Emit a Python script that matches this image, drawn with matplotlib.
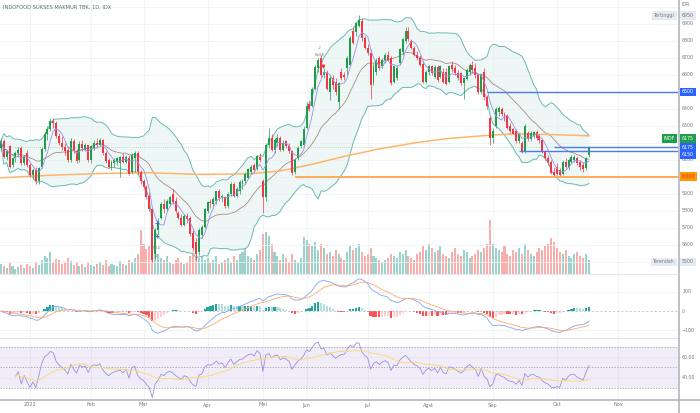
import matplotlib.pyplot as plt
import matplotlib.transforms as mtransforms
from matplotlib.lines import Line2D
import numpy as np
import pandas as pd

plt.rcParams['font.family'] = ['DejaVu Sans']

title = 'INDOFOOD SUKSES MAKMUR TBK, 1D, IDX'

# daily candles (Dec 2021 .. 18 Oct 2022)
opens = [
    6170, 6210, 6120, 6180, 6070, 6110, 6140, 6170, 6080, 6140,
    6070, 6010, 6040, 5975, 6060, 6165, 6250, 6280, 6330, 6320,
    6240, 6200, 6175, 6160, 6100, 6210, 6150, 6100, 6195, 6160,
    6185, 6100, 6170, 6200, 6190, 6215, 6140, 6100, 6060, 6080,
    6090, 6080, 6115, 6090, 6110, 6030, 6110, 6140, 6030, 5975,
    5940, 5890, 5810, 5545, 5690, 5760, 5840, 5810, 5840, 5900,
    5860, 5790, 5760, 5720, 5770, 5760, 5670, 5620, 5560, 5660,
    5705, 5800, 5850, 5840, 5860, 5915, 5880, 5880, 5830, 5900,
    5960, 5890, 5920, 5960, 5975, 5995, 6030, 6070, 6045, 6120,
    5975, 5880, 6190, 6230, 6160, 6200, 6230, 6160, 6210, 6180,
    6150, 6030, 6110, 6180, 6190, 6290, 6430, 6420, 6520, 6640,
    6700, 6600, 6610, 6500, 6580, 6560, 6440, 6620, 6600, 6640,
    6660, 6860, 6850, 6890, 6920, 6815, 6760, 6730, 6550, 6620,
    6700, 6650, 6690, 6720, 6700, 6560, 6580, 6670, 6735, 6800,
    6860, 6800, 6760, 6720, 6700, 6665, 6560, 6620, 6650, 6590,
    6645, 6590, 6620, 6620, 6560, 6660, 6640, 6610, 6610, 6550,
    6575, 6620, 6660, 6640, 6600, 6500, 6620, 6470, 6345, 6230,
    6300, 6380, 6400, 6370, 6360, 6300, 6280, 6270, 6210, 6200,
    6150, 6260, 6225, 6240, 6265, 6240, 6215, 6150, 6110, 6085,
    6030, 6060, 6040, 6020, 6090, 6060, 6090, 6100, 6110, 6085,
    6070, 6050, 6130,
]
highs = [
    6230, 6225, 6160, 6190, 6120, 6150, 6175, 6180, 6130, 6160,
    6080, 6050, 6060, 6060, 6175, 6265, 6300, 6345, 6345, 6330,
    6260, 6240, 6200, 6180, 6230, 6225, 6165, 6210, 6220, 6200,
    6190, 6190, 6220, 6230, 6230, 6225, 6150, 6110, 6100, 6110,
    6120, 6125, 6140, 6130, 6130, 6140, 6150, 6150, 6040, 5985,
    5950, 5910, 5820, 5700, 5760, 5850, 5870, 5870, 5890, 5930,
    5880, 5800, 5780, 5780, 5790, 5770, 5690, 5640, 5700, 5720,
    5820, 5860, 5870, 5880, 5920, 5930, 5900, 5890, 5910, 5970,
    5970, 5940, 5980, 5990, 6030, 6050, 6070, 6080, 6130, 6140,
    5990, 6200, 6290, 6250, 6230, 6250, 6240, 6220, 6220, 6200,
    6160, 6110, 6180, 6220, 6300, 6440, 6450, 6530, 6660, 6700,
    6720, 6640, 6630, 6600, 6600, 6580, 6560, 6640, 6620, 6710,
    6830, 6880, 6910, 6950, 6935, 6830, 6780, 6750, 6670, 6700,
    6710, 6700, 6730, 6740, 6710, 6660, 6660, 6760, 6820, 6880,
    6880, 6810, 6770, 6740, 6720, 6680, 6630, 6660, 6660, 6660,
    6660, 6660, 6640, 6640, 6660, 6680, 6660, 6630, 6620, 6590,
    6640, 6670, 6680, 6670, 6610, 6610, 6640, 6480, 6360, 6290,
    6410, 6420, 6410, 6380, 6370, 6320, 6290, 6280, 6260, 6210,
    6310, 6270, 6270, 6270, 6275, 6250, 6225, 6160, 6130, 6100,
    6060, 6080, 6050, 6100, 6110, 6110, 6130, 6130, 6120, 6100,
    6090, 6120, 6180,
]
lows = [
    6150, 6110, 6100, 6050, 6060, 6090, 6120, 6070, 6070, 6060,
    6000, 5990, 5960, 5960, 6050, 6150, 6220, 6270, 6290, 6230,
    6190, 6160, 6130, 6090, 6090, 6140, 6080, 6090, 6150, 6150,
    6090, 6080, 6160, 6170, 6180, 6130, 6080, 6050, 6040, 6060,
    6070, 6000, 6080, 6080, 6010, 6020, 6030, 6020, 5960, 5930,
    5870, 5800, 5500, 5520, 5660, 5750, 5790, 5800, 5830, 5840,
    5790, 5750, 5710, 5710, 5730, 5650, 5570, 5510, 5540, 5640,
    5700, 5790, 5820, 5830, 5840, 5860, 5850, 5820, 5820, 5890,
    5880, 5880, 5900, 5930, 5960, 5990, 6020, 6030, 6040, 6090,
    5790, 5860, 6170, 6150, 6140, 6180, 6150, 6150, 6170, 6140,
    6010, 6020, 6100, 6170, 6180, 6280, 6390, 6410, 6510, 6620,
    6590, 6580, 6510, 6450, 6520, 6480, 6400, 6570, 6570, 6600,
    6650, 6780, 6830, 6880, 6800, 6750, 6720, 6460, 6540, 6600,
    6630, 6640, 6670, 6680, 6540, 6550, 6570, 6660, 6720, 6790,
    6800, 6750, 6710, 6690, 6650, 6550, 6550, 6600, 6600, 6580,
    6560, 6580, 6550, 6540, 6550, 6620, 6600, 6570, 6540, 6460,
    6570, 6600, 6620, 6580, 6490, 6490, 6450, 6400, 6190, 6200,
    6290, 6360, 6360, 6330, 6280, 6260, 6250, 6200, 6200, 6140,
    6140, 6210, 6210, 6230, 6220, 6200, 6140, 6100, 6070, 6015,
    6000, 6010, 6000, 6010, 6050, 6040, 6080, 6090, 6070, 6040,
    6030, 6040, 6120,
]
closes = [
    6210, 6120, 6150, 6060, 6110, 6140, 6160, 6080, 6120, 6070,
    6010, 6040, 5975, 6050, 6165, 6250, 6280, 6330, 6320, 6240,
    6200, 6175, 6150, 6100, 6210, 6150, 6095, 6195, 6170, 6185,
    6100, 6180, 6200, 6190, 6215, 6140, 6095, 6060, 6085, 6100,
    6110, 6115, 6090, 6120, 6020, 6130, 6140, 6030, 5975, 5940,
    5880, 5810, 5510, 5690, 5740, 5840, 5810, 5860, 5880, 5850,
    5800, 5760, 5720, 5770, 5750, 5665, 5580, 5545, 5690, 5705,
    5810, 5855, 5845, 5870, 5915, 5875, 5890, 5830, 5900, 5960,
    5890, 5930, 5970, 5975, 6015, 6045, 6060, 6040, 6125, 6100,
    5880, 6190, 6230, 6160, 6215, 6230, 6160, 6200, 6180, 6150,
    6025, 6100, 6170, 6210, 6285, 6420, 6400, 6520, 6645, 6690,
    6600, 6620, 6520, 6580, 6540, 6500, 6550, 6585, 6590, 6700,
    6815, 6790, 6905, 6925, 6815, 6760, 6730, 6540, 6655, 6690,
    6640, 6690, 6720, 6690, 6555, 6655, 6640, 6750, 6810, 6860,
    6810, 6760, 6720, 6700, 6660, 6560, 6620, 6650, 6610, 6645,
    6570, 6650, 6560, 6545, 6650, 6635, 6610, 6580, 6550, 6580,
    6630, 6660, 6630, 6600, 6500, 6600, 6470, 6420, 6230, 6270,
    6400, 6405, 6370, 6345, 6290, 6270, 6255, 6210, 6250, 6150,
    6300, 6225, 6260, 6265, 6230, 6215, 6150, 6110, 6085, 6025,
    6010, 6020, 6010, 6090, 6060, 6100, 6120, 6115, 6080, 6060,
    6045, 6110, 6175,
]
volumes = [
    10, 8, 6, 12, 8, 5, 7, 9, 6, 10,
    8, 6, 12, 9, 14, 18, 16, 22, 12, 15,
    14, 10, 12, 16, 13, 9, 12, 8, 10, 7,
    11, 9, 8, 10, 12, 9, 14, 8, 10, 9,
    8, 13, 10, 9, 14, 12, 16, 20, 44, 30,
    25, 28, 34, 26, 20, 16, 14, 18, 12, 10,
    14, 16, 12, 10, 12, 18, 24, 20, 16, 18,
    14, 16, 12, 14, 18, 10, 12, 14, 16, 12,
    18, 14, 20, 22, 26, 18, 16, 14, 20, 24,
    40, 42, 38, 30, 22, 18, 14, 20, 16, 12,
    20, 14, 12, 16, 37, 34, 30, 28, 32, 24,
    30, 26, 20, 22, 18, 24, 20, 16, 14, 22,
    28, 24, 26, 30, 22, 18, 20, 26, 18, 16,
    14, 12, 14, 16, 20, 18, 16, 22, 20, 24,
    18, 16, 14, 20, 22, 28, 24, 30, 26, 22,
    24, 28, 20, 18, 16, 22, 26, 20, 18, 24,
    22, 16, 18, 20, 24, 22, 26, 30, 54, 30,
    26, 24, 22, 28, 20, 18, 24, 22, 26, 20,
    30, 24, 20, 18, 22, 26, 24, 28, 30, 36,
    32, 26, 22, 20, 24, 18, 16, 20, 22, 18,
    16, 20, 14,
]

# 200-day MA read at a few points (needs history that is off the chart)
ma200_pos = [0, 17, 34, 50, 68, 85, 96, 107, 119, 130, 142, 153, 165, 176, 188, 202]
ma200_val = [5995, 6010, 6020, 6025, 6015, 6018, 6035, 6075, 6125, 6165, 6200, 6225, 6242, 6253, 6250, 6242]

month_pos = [10, 31, 49, 71, 90, 105, 126, 147, 169, 191, 212]
month_names = ['2022', 'Feb', 'Mar', 'Apr', 'Mei', 'Jun', 'Jul', 'Agst', 'Sep', 'Okt', 'Nov']

level_vals = [6500, 6175, 6150, 6000]
level_start = [167, 190, 178, 101]
level_cols = ['#4a7af0', '#4a7af0', '#4a7af0', '#ffab57']

price_ticks = list(range(5600, 7000, 100))

# ---- indicators ----
n = len(closes)
idx = np.arange(n)
o = np.array(opens, float)
h = np.array(highs, float)
l = np.array(lows, float)
c = np.array(closes, float)
up = c >= o

s = pd.Series(c)
basis = s.rolling(20, min_periods=1).mean()
dev = s.rolling(20, min_periods=1).std(ddof=0)
upper = basis + 2 * dev
lower = basis - 2 * dev
ma5 = s.rolling(5, min_periods=1).mean()

macd = s.ewm(span=12, adjust=False).mean() - s.ewm(span=26, adjust=False).mean()
signal = macd.ewm(span=9, adjust=False).mean()
hist = macd - signal

delta = s.diff()
gain = delta.clip(lower=0).ewm(alpha=1 / 14, adjust=True).mean()
loss = (-delta.clip(upper=0)).ewm(alpha=1 / 14, adjust=True).mean()
rsi = 100 - 100 / (1 + gain / loss)
rsi[:5] = np.nan  # warm-up values are meaningless
rsi_ma = rsi.rolling(14, min_periods=1).mean()

# ---- layout ----
W, H = 700, 413
PW = 678
fig = plt.figure(figsize=(7, 4.13), dpi=100)


def frame(top, bottom):
    return [0, 1 - bottom / H, PW / W, (bottom - top) / H]


ax = fig.add_axes(frame(0, 274))
axv = ax.twinx()
axm = fig.add_axes(frame(274, 338))
axr = fig.add_axes(frame(338, 399))
ax.set_zorder(axv.get_zorder() + 1)
ax.patch.set_visible(False)

XL = (-0.3, 232.6)
for a in (ax, axv, axm, axr):
    a.set_xlim(*XL)
    a.set_xticks([])
    a.set_yticks([])
    for sp in a.spines.values():
        sp.set_visible(False)

ax.set_ylim(5429, 7041)
axv.set_ylim(0, 274)
axm.set_ylim(-138.5, 190)
axr.set_ylim(19.35, 78.4)

grid_c = '#edf2f5'
for p in month_pos:
    for a in (axv, axm, axr):
        a.axvline(p, color=grid_c, lw=0.6, zorder=0)
for p in range(5500, 7100, 100):
    ax.axhline(p, color=grid_c, lw=0.6, zorder=0)

# volume
vcol = np.where(up, '#9ad3cc', '#f7aeac')
axv.bar(idx, volumes, width=0.7, color=vcol, lw=0)

# bands and averages
ax.fill_between(idx, lower, upper, color='#e4f2f0', alpha=0.6, lw=0, zorder=1)
ax.plot(idx, upper, color='#6ab9b2', lw=0.7, zorder=2)
ax.plot(idx, lower, color='#6ab9b2', lw=0.7, zorder=2)
ax.plot(idx, basis, color='#a88b86', lw=0.6, zorder=3)
ax.plot(ma200_pos, ma200_val, color='#ffb46b', lw=1.1, zorder=3)

# candles
col = np.where(up, '#1e9e4a', '#f23645')
ax.vlines(idx, l, h, colors=col, lw=0.5, zorder=4)
ax.bar(idx, np.maximum(np.abs(c - o), 5), bottom=np.minimum(o, c), width=0.68,
       color=col, lw=0, zorder=5)
ax.plot(idx, ma5, color='#9d8fe6', lw=0.6, zorder=6)

# horizontal levels
for v, st, cl in zip(level_vals, level_start, level_cols):
    ax.hlines(v, st, XL[1], colors=cl, lw=1.4 if v == 6000 else 1.0, zorder=7)
ax.axhline(closes[-1], color='#9fd6bd', lw=0.6, ls=(0, (1, 1.5)), zorder=1)

# signals
ax.plot([53.5, 53.5], [5730, 5650], ls='none', marker='+', ms=2.5, mew=0.6, color='#2962ff', zorder=8)
ax.text(53.5, 5580, 'BuLE', fontsize=2.8, color='#787b86', ha='center', va='center', zorder=8)
ax.text(53.5, 5535, '-2', fontsize=2.8, color='#787b86', ha='center', va='center', zorder=8)
ax.text(109.6, 6760, '-2', fontsize=2.8, color='#787b86', ha='center', va='center', zorder=8)
ax.text(109.6, 6718, 'BuSE', fontsize=2.8, color='#787b86', ha='center', va='center', zorder=8)
ax.plot([110.5], [6650], ls='none', marker='v', ms=1.8, color='#f23645', zorder=8)

# MACD
hcol = []
for k in range(n):
    prev = hist[k - 1] if k else 0
    if hist[k] >= 0:
        hcol.append('#26a69a' if hist[k] >= prev else '#b2dfdb')
    else:
        hcol.append('#ff5252' if hist[k] < prev else '#ffcdd2')
axm.axhline(100, color=grid_c, lw=0.6)
axm.axhline(-100, color=grid_c, lw=0.6)
axm.axhline(0, color='#b2b5be', lw=0.5, ls=(0, (3, 3)))
axm.bar(idx, hist, width=0.75, color=hcol, lw=0)
axm.plot(idx, macd, color='#7fa4f2', lw=0.6)
axm.plot(idx, signal, color='#ffa86e', lw=0.6)

# RSI
axr.axhspan(30, 70, color='#7e57c2', alpha=0.1, lw=0)
for lv in (60, 40):
    axr.axhline(lv, color='#e6e2f0', lw=0.5)
for lv in (70, 50, 30):
    axr.axhline(lv, color='#9598a1', lw=0.5, ls=(0, (2, 2)))
axr.plot(idx, rsi, color='#9b8ee0', lw=0.6)
axr.plot(idx, rsi_ma, color='#f7dc7c', lw=0.7)

# ---- text ----
fs = 3.4
gray = '#787b86'
LX = 682 / PW
tr = mtransforms.blended_transform_factory(ax.transAxes, ax.transData)
for p in price_ticks:
    ax.text(LX, p, str(p), transform=tr, fontsize=fs, color=gray, ha='left', va='center', zorder=10)
ax.text(LX, 1 - 5 / 274, 'IDR', transform=ax.transAxes, fontsize=fs, color=gray, ha='left', va='center')

boxes = [('6500', 6500, '#2962ff', 'white'),
         ('6175', 6224, '#1e9e4a', 'white'),
         ('6175', 6175, '#2962ff', 'white'),
         ('6150', 6130, '#2962ff', 'white'),
         ('6,000', 6003, '#ff9800', '#d32f2f'),
         ('6950', 6950, '#e6ebf1', gray),
         ('5500', 5500, '#e6ebf1', gray)]
for txt, y, fc, tc in boxes:
    ax.text(LX, y, txt, transform=tr, fontsize=fs, color=tc, ha='left', va='center', zorder=20,
            bbox=dict(boxstyle='square,pad=0.4', fc=fc, ec='none'))
for txt, y, fc, tc in [('Tertinggi', 6950, '#e6ebf1', gray), ('Terendah', 5500, '#e6ebf1', gray),
                       ('INDF', 6224, '#1e9e4a', 'white')]:
    ax.text(675 / PW, y, txt, transform=tr, fontsize=fs, color=tc, ha='right', va='center', zorder=20,
            bbox=dict(boxstyle='square,pad=0.4', fc=fc, ec='none'))

ax.text(3 / PW, 1 - 7 / 274, title, transform=ax.transAxes, fontsize=3.7, color='#5b6b6e',
        ha='left', va='center')

trm = mtransforms.blended_transform_factory(axm.transAxes, axm.transData)
for v, t in [(100, '100'), (0, '0'), (-100, '\u2212100')]:
    axm.text(LX, v, t, transform=trm, fontsize=fs, color=gray, ha='left', va='center')
trr = mtransforms.blended_transform_factory(axr.transAxes, axr.transData)
for v in (60, 40):
    axr.text(LX, v, '%.2f' % v, transform=trr, fontsize=fs, color=gray, ha='left', va='center')

trx = mtransforms.blended_transform_factory(axr.transData, axr.transAxes)
for p, name in zip(month_pos, month_names):
    axr.text(p, -6 / 61, name, transform=trx, fontsize=3.6, color=gray, ha='center', va='center')

# pane separators and price scale border
fig.add_artist(Line2D([0, PW / W], [1 - 274 / H] * 2, color='#e6e9ef', lw=0.8))
fig.add_artist(Line2D([0, PW / W], [1 - 338 / H] * 2, color='#e0e3eb', lw=0.8))
fig.add_artist(Line2D([0, 1], [1 - 399.5 / H] * 2, color='#b2b5be', lw=1.2))
fig.add_artist(Line2D([(PW + 0.5) / W] * 2, [0, 1], color='#b2b5be', lw=1.2))

fig.savefig('out.png', dpi=100)
